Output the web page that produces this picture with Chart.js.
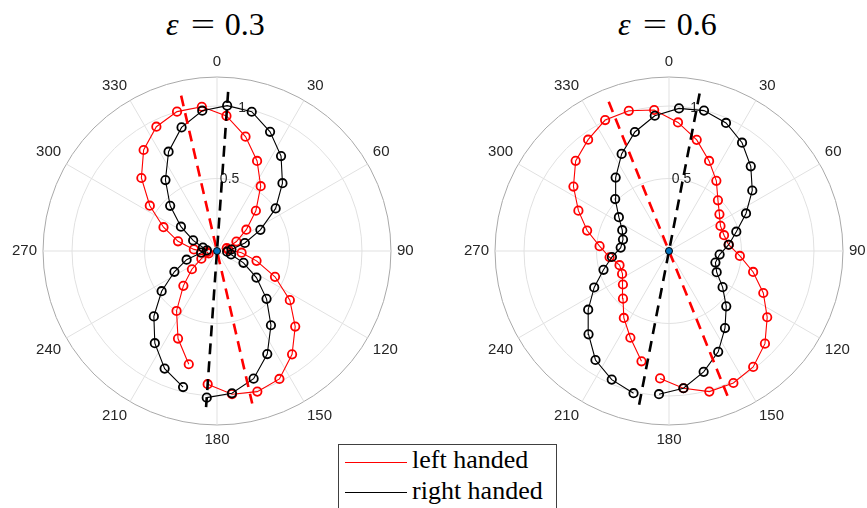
<!DOCTYPE html>
<html>
<head>
<meta charset="utf-8">
<script src="https://cdn.jsdelivr.net/npm/chart.js@4.4.1/dist/chart.umd.min.js"></script>
<style>
  html, body { margin: 0; padding: 0; background: #fff; width: 867px; height: 508px; overflow: hidden; }
  canvas { position: absolute; }
  .title { position: absolute; top: 8px; font-family: "Liberation Serif", "Times New Roman", serif; font-size: 32px; line-height: 32px; color: #000; white-space: nowrap; }
  .title .eq { display: inline-block; margin: 0 13px 0 15px; transform: scaleX(1.35); }
  #legend { position: absolute; left: 338px; top: 444px; width: 219px; height: 80px; border: 1px solid #404040; box-sizing: border-box; background: #fff; }
  .ltext { position: absolute; left: 73px; font-family: "Liberation Serif", "Times New Roman", serif; font-size: 26px; line-height: 30px; color: #000; white-space: nowrap; }
  .lline { position: absolute; left: 6px; width: 62px; height: 1.6px; }
</style>
</head>
<body>
<div class="title" style="left:166px"><i>ε</i><span class="eq">=</span>0.3</div>
<div class="title" style="left:618px"><i>ε</i><span class="eq">=</span>0.6</div>
<canvas id="c1" width="410" height="410" style="left:8px;top:46px"></canvas>
<canvas id="c2" width="410" height="410" style="left:460px;top:46px"></canvas>
<div id="legend">
  <div class="lline" style="top:16.7px;background:#ff0000"></div>
  <div class="ltext" style="top:0px">left handed</div>
  <div class="lline" style="top:46.7px;background:#000000"></div>
  <div class="ltext" style="top:31px">right handed</div>
</div>
<script>
// ---- data ----
const angleTickLabels = ['0','30','60','90','120','150','180','210','240','270','300','330'];
const rTickValues = [0.5, 1];
const rTickLabels = ['0.5', '1'];
const rGridValues = [0, 0.5, 1, 1.2];

// measurement angles (degrees, clockwise from top), in plotting order
const thetaDeg = [194,204,214,224,234,244,254,264,274,284,294,304,314,324,334,344,354,
                  4,14,24,34,44,54,64,74,84,94,104,114,124,134,144,154,164,174,184];

// epsilon = 0.3
const leftHanded03  = [0.805,0.661,0.499,0.334,0.214,0.12,0.06,0.07,0.16,0.277,0.404,0.559,0.725,0.861,0.954,1.0,1.0,
                       0.934,0.813,0.68,0.539,0.386,0.25,0.149,0.07,0.08,0.17,0.281,0.438,0.606,0.75,0.881,0.982,1.009,0.993,0.921];
const rightHanded03 = [0.967,0.888,0.767,0.627,0.472,0.327,0.218,0.11,0.07,0.1,0.18,0.3,0.449,0.605,0.762,0.887,0.973,
                       1.005,0.99,0.90,0.79,0.65,0.50,0.333,0.2,0.1,0.07,0.1,0.2,0.328,0.475,0.633,0.791,0.916,0.987,1.014];
const leftAxis03Theta  = [347, 167];
const leftAxis03R      = [1.1, 1.08];
const rightAxis03Theta = [4, 184];
const rightAxis03R     = [1.1, 1.08];

// epsilon = 0.6
const leftHanded06  = [0.784,0.655,0.557,0.457,0.393,0.36,0.355,0.412,0.48,0.582,0.684,0.795,0.895,0.949,1.005,1.006,0.978,
                       0.889,0.79,0.68,0.584,0.486,0.43,0.395,0.395,0.414,0.49,0.598,0.712,0.817,0.92,0.988,1.013,1.009,0.952,0.881];
const rightHanded06 = [1.011,0.971,0.907,0.799,0.689,0.574,0.47,0.396,0.334,0.327,0.353,0.417,0.516,0.626,0.745,0.854,0.938,
                       0.986,0.998,0.967,0.901,0.812,0.71,0.591,0.483,0.414,0.35,0.33,0.36,0.446,0.549,0.657,0.774,0.867,0.952,0.99];
const leftAxis06Theta  = [338, 158];
const leftAxis06R      = [1.11, 1.08];
const rightAxis06Theta = [11, 191];
const rightAxis06R     = [1.115, 1.08];

const centerTheta = [0];
const centerR = [0];

// ---- helpers ----
const START = 190;          // angle (deg) of category index 0; the curves' open end lies here
const N = 360;              // one category per degree
const idxOf = a => (((Math.round(a) - START) % N) + N) % N;
const categoryLabels = Array.from({length: N}, (_, i) => {
  const a = (i + START) % N;
  return a % 30 === 0 ? angleTickLabels[a / 30] : '';
});
function series(thetas, radii) {
  const arr = new Array(N).fill(null);
  thetas.forEach((t, k) => { arr[idxOf(t)] = radii[k]; });
  return arr;
}

// keep curves open (radar closes its path by default)
const openCurves = {
  id: 'openCurves',
  afterDatasetsUpdate(chart) {
    chart.getSortedVisibleDatasetMetas().forEach(meta => {
      const line = meta.dataset;
      if (line) { line._loop = false; line._fullLoop = false; delete line._segments; delete line._path; }
    });
  }
};
// radial tick labels placed upright along the 10 degree direction
const rTickText = {
  id: 'rTickText',
  beforeDatasetsDraw(chart) {
    const s = chart.scales.r, ctx = chart.ctx;
    const idx = idxOf(10);
    ctx.save();
    ctx.font = '14px "Liberation Sans", Arial, sans-serif';
    ctx.fillStyle = '#262626';
    ctx.textAlign = 'center';
    ctx.textBaseline = 'middle';
    rTickValues.forEach((v, k) => {
      const p = s.getPointPositionForValue(idx, v);
      ctx.fillText(rTickLabels[k], p.x, p.y);
    });
    ctx.restore();
  }
};

function makeChart(id, red, black, redAxT, redAxR, blackAxT, blackAxR) {
  const marker = {
    pointRadius: 4.2, pointBorderWidth: 1.8, pointBackgroundColor: 'rgba(0,0,0,0)',
    borderWidth: 1.1, spanGaps: true, fill: false, tension: 0
  };
  return new Chart(document.getElementById(id), {
    type: 'radar',
    data: {
      labels: categoryLabels,
      datasets: [
        { label: 'center', data: series(centerTheta, centerR), showLine: false, fill: false,
          pointRadius: 3.5, pointBorderWidth: 1, pointBackgroundColor: '#0072BD', pointBorderColor: '#000', order: 0 },
        { label: 'right axis', data: series(blackAxT, blackAxR), borderColor: '#000', borderWidth: 2.6,
          borderDash: [11, 7], pointRadius: 0, spanGaps: true, fill: false, order: 1 },
        { label: 'left axis', data: series(redAxT, redAxR), borderColor: '#ff0000', borderWidth: 2.6,
          borderDash: [11, 7], pointRadius: 0, spanGaps: true, fill: false, order: 2 },
        Object.assign({ label: 'right handed', data: series(thetaDeg, black), borderColor: '#000',
          pointBorderColor: '#000', order: 3 }, marker),
        Object.assign({ label: 'left handed', data: series(thetaDeg, red), borderColor: '#ff0000',
          pointBorderColor: '#ff0000', order: 4 }, marker)
      ]
    },
    options: {
      responsive: false,
      animation: false,
      events: [],
      layout: { padding: 0 },
      plugins: { legend: { display: false }, tooltip: { enabled: false }, title: { display: false } },
      scales: {
        r: {
          min: 0, max: 1.2,
          startAngle: START,
          afterBuildTicks: axis => { axis.ticks = rGridValues.map(v => ({ value: v })); },
          ticks: { display: false },
          grid: {
            circular: true,
            lineWidth: 1,
            color: c => (c.tick && c.tick.value > 1.15 ? '#a9a9a9' : '#e1e1e1')
          },
          angleLines: {
            color: '#e1e1e1',
            lineWidth: c => (((c.index + START) % N) % 30 === 0 ? 1 : 0)
          },
          pointLabels: {
            color: '#262626',
            padding: 6,
            font: { size: 15, family: '"Liberation Sans", Arial, sans-serif' }
          }
        }
      }
    },
    plugins: [openCurves, rTickText]
  });
}

makeChart('c1', leftHanded03, rightHanded03, leftAxis03Theta, leftAxis03R, rightAxis03Theta, rightAxis03R);
makeChart('c2', leftHanded06, rightHanded06, leftAxis06Theta, leftAxis06R, rightAxis06Theta, rightAxis06R);
</script>
</body>
</html>
